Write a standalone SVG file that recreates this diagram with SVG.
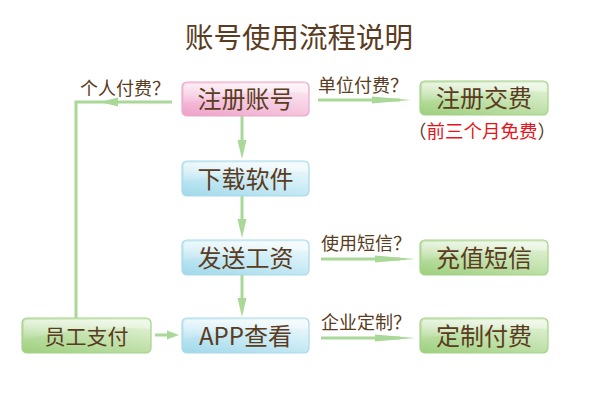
<svg xmlns="http://www.w3.org/2000/svg" width="600" height="400" viewBox="0 0 600 400">
<defs>
<linearGradient id="gPink" x1="0" y1="1" x2="0.6" y2="0">
<stop offset="0" stop-color="#eea0c8"/><stop offset="0.5" stop-color="#f5c6de"/><stop offset="1" stop-color="#fbe6f0"/>
</linearGradient>
<linearGradient id="gGreen" x1="0" y1="1" x2="0.6" y2="0">
<stop offset="0" stop-color="#9ccf7c"/><stop offset="0.5" stop-color="#bfe0a8"/><stop offset="1" stop-color="#dff0d2"/>
</linearGradient>
<linearGradient id="gBlue" x1="0" y1="1" x2="0.6" y2="0">
<stop offset="0" stop-color="#9fd8ea"/><stop offset="0.5" stop-color="#c6e9f4"/><stop offset="1" stop-color="#eaf7fb"/>
</linearGradient>
<linearGradient id="gloss" x1="0" y1="0" x2="0" y2="1">
<stop offset="0" stop-color="#ffffff" stop-opacity="0.55"/><stop offset="1" stop-color="#ffffff" stop-opacity="0.05"/>
</linearGradient>
</defs>
<style>
.box{stroke-width:1.2}
.pink{fill:url(#gPink);stroke:#e8a9c8}
.green{fill:url(#gGreen);stroke:#a6d28c}
.blue{fill:url(#gBlue);stroke:#a9d9e8}
.gl{fill:url(#gloss)}
.t{font-family:"Noto Sans CJK SC","Noto Sans",sans-serif;fill:#5a3c22}
.bt{font-size:24px;text-anchor:middle}
.lb{font-size:18px}
.ln{stroke:#a9d898;stroke-width:3;fill:none}
.ah{fill:#a9d898}
</style>
<text class="t" x="299" y="48" font-size="28.5" text-anchor="middle">账号使用流程说明</text>
<g id="connectors">
<line class="ln" x1="242" y1="116" x2="242" y2="150"/>
<polygon class="ah" points="237.5,140 246.5,140 242,159"/>
<line class="ln" x1="242" y1="196" x2="242" y2="229"/>
<polygon class="ah" points="237.5,219 246.5,219 242,238"/>
<line class="ln" x1="242" y1="275" x2="242" y2="307"/>
<polygon class="ah" points="237.5,298 246.5,298 242,317"/>
<line class="ln" x1="318" y1="100" x2="400" y2="100"/>
<polygon class="ah" points="372,96.5 411,100 372,103.5"/>
<line class="ln" x1="321" y1="259" x2="400" y2="259"/>
<polygon class="ah" points="375,255.5 415,259 375,262.5"/>
<line class="ln" x1="321" y1="338" x2="400" y2="338"/>
<polygon class="ah" points="375,334.5 415,338 375,341.5"/>
<polyline class="ln" points="172,102 76,102 76,318"/>
<polygon class="ah" points="118,97.5 118,106.5 100,102"/>
<line class="ln" x1="155" y1="335" x2="170" y2="335"/>
<polygon class="ah" points="167,330.5 167,339.5 179,335"/>
</g>
<g id="n-zhuce">
<rect class="box pink" x="182" y="82" width="127" height="34" rx="5"/>
<path class="gl" d="M186,84 h119 a3,3 0 0 1 3,3 v6 q-60,-4 -124,10 v-16 a3,3 0 0 1 2,-3z"/>
<text class="t bt" x="245.5" y="107.5">注册账号</text>
</g>
<g id="n-jiaofei">
<rect class="box green" x="420" y="81" width="128" height="34" rx="5"/>
<path class="gl" d="M424,83 h120 a3,3 0 0 1 3,3 v6 q-60,-4 -125,10 v-16 a3,3 0 0 1 2,-3z"/>
<text class="t bt" x="484" y="106.5">注册交费</text>
</g>
<text class="t" x="482" y="138" font-size="18.5" text-anchor="middle">（<tspan fill="#e8141c">前三个月免费</tspan>）</text>
<g id="n-xiazai">
<rect class="box blue" x="182" y="161" width="127" height="35" rx="5"/>
<path class="gl" d="M186,163 h119 a3,3 0 0 1 3,3 v6 q-60,-4 -124,10 v-16 a3,3 0 0 1 2,-3z"/>
<text class="t bt" x="245.5" y="187.5">下载软件</text>
</g>
<g id="n-fasong">
<rect class="box blue" x="182" y="240" width="127" height="35" rx="5"/>
<path class="gl" d="M186,242 h119 a3,3 0 0 1 3,3 v6 q-60,-4 -124,10 v-16 a3,3 0 0 1 2,-3z"/>
<text class="t bt" x="245.5" y="266.5">发送工资</text>
</g>
<g id="n-app">
<rect class="box blue" x="182" y="318" width="127" height="35" rx="5"/>
<path class="gl" d="M186,320 h119 a3,3 0 0 1 3,3 v6 q-60,-4 -124,10 v-16 a3,3 0 0 1 2,-3z"/>
<text class="t bt" x="245.5" y="344.5">APP查看</text>
</g>
<g id="n-yuangong">
<rect class="box green" x="22" y="318" width="129" height="35" rx="5"/>
<path class="gl" d="M26,320 h121 a3,3 0 0 1 3,3 v6 q-60,-4 -126,10 v-16 a3,3 0 0 1 2,-3z"/>
<text class="t" x="86.5" y="343.5" font-size="21" text-anchor="middle">员工支付</text>
</g>
<g id="n-chongzhi">
<rect class="box green" x="420" y="240" width="128" height="35" rx="5"/>
<path class="gl" d="M424,242 h120 a3,3 0 0 1 3,3 v6 q-60,-4 -125,10 v-16 a3,3 0 0 1 2,-3z"/>
<text class="t bt" x="484" y="266.5">充值短信</text>
</g>
<g id="n-dingzhi">
<rect class="box green" x="420" y="318" width="128" height="35" rx="5"/>
<path class="gl" d="M424,320 h120 a3,3 0 0 1 3,3 v6 q-60,-4 -125,10 v-16 a3,3 0 0 1 2,-3z"/>
<text class="t bt" x="484" y="344.5">定制付费</text>
</g>
<text class="t lb" x="80" y="95">个人付费？</text>
<text class="t lb" x="318" y="92">单位付费？</text>
<text class="t lb" x="321" y="250">使用短信？</text>
<text class="t lb" x="321" y="329">企业定制？</text>
</svg>
